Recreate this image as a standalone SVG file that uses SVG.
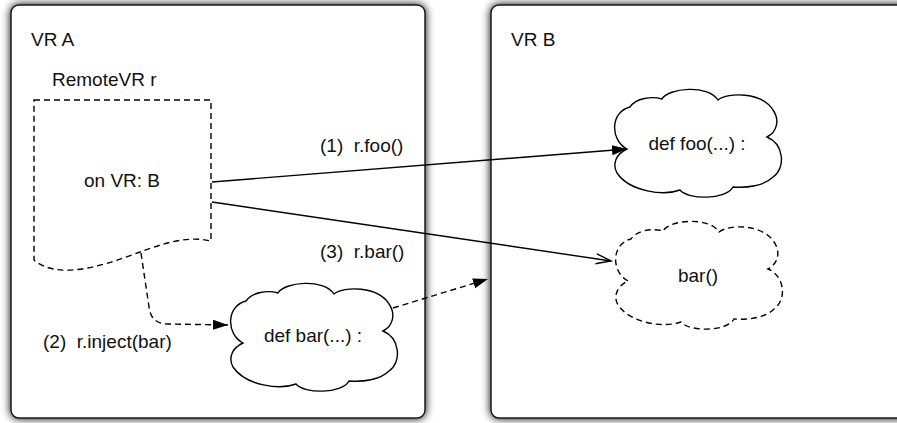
<svg xmlns="http://www.w3.org/2000/svg" width="897" height="423" viewBox="0 0 897 423">
  <style>
    text { font-family: "Liberation Sans", Arial, sans-serif; font-size: 19px; fill: #111; }
    .box { fill: #fff; stroke: #1a1a1a; stroke-width: 1.5; }
    .solid { fill: none; stroke: #000; stroke-width: 1.4; }
    .dash { fill: none; stroke: #000; stroke-width: 1.4; stroke-dasharray: 6 4; }
    .mid { text-anchor: middle; }
  </style>
  <defs>
    <filter id="shadow" x="-10%" y="-10%" width="120%" height="120%">
      <feGaussianBlur in="SourceAlpha" stdDeviation="4.5" result="b"/>
      <feComponentTransfer in="b" result="s">
        <feFuncA type="linear" slope="1"/>
      </feComponentTransfer>
      <feMerge>
        <feMergeNode in="s"/>
        <feMergeNode in="SourceGraphic"/>
      </feMerge>
    </filter>
    <path id="cloud" d="M15,61 C-2,52 -2,24 18,19 C24,10 40,8 50,11 C56,0 96,-4 106,12 C116,4 150,4 161,22 C168,32 165,44 155,49 C172,56 174,80 161,89 C152,98 135,100 121,99 C114,112 76,112 68,102 C52,108 18,104 5,85 C0,76 4,66 15,61 Z"/>
    <marker id="arrow" markerUnits="userSpaceOnUse" markerWidth="16" markerHeight="12" refX="15" refY="5" orient="auto">
      <path d="M0,0 L15,5 L0,10 Z" fill="#000"/>
    </marker>
    <marker id="open" markerUnits="userSpaceOnUse" markerWidth="18" markerHeight="14" refX="16" refY="6" orient="auto">
      <path d="M1,1 L16,6 L1,11" fill="none" stroke="#000" stroke-width="1.4"/>
    </marker>
  </defs>

  <rect width="897" height="423" fill="#fff"/>

  <!-- containers -->
  <g id="vr-a">
    <rect class="box" x="11" y="5" width="414" height="413" rx="8" filter="url(#shadow)"/>
    <text x="31" y="46">VR A</text>
  </g>
  <g id="vr-b">
    <rect class="box" x="491" y="5" width="420" height="413" rx="8" filter="url(#shadow)"/>
    <text x="511" y="46">VR B</text>
  </g>

  <!-- remote proxy (document shape) -->
  <g id="remote-vr">
    <text x="52" y="86">RemoteVR r</text>
    <path class="dash" d="M34,100 H211 V241 C185,235 160,245 140,252 C110,263 60,282 34,260 Z"/>
    <text class="mid" x="122" y="187">on VR: B</text>
  </g>

  <!-- local function -->
  <g id="def-bar">
    <use href="#cloud" x="228" y="282" fill="#fff" stroke="#000" stroke-width="1.4"/>
    <text class="mid" x="313" y="342">def bar(...) :</text>
  </g>

  <!-- remote functions -->
  <g id="def-foo">
    <use href="#cloud" x="612" y="88" fill="#fff" stroke="#000" stroke-width="1.4"/>
    <text class="mid" x="697" y="150">def foo(...) :</text>
  </g>
  <g id="bar-injected">
    <use href="#cloud" x="613" y="220" fill="#fff" stroke="#000" stroke-width="1.4" stroke-dasharray="6 4"/>
    <text class="mid" x="698" y="282">bar()</text>
  </g>

  <!-- connectors -->
  <g id="connectors">
    <line class="solid" x1="212" y1="182" x2="627" y2="149" marker-end="url(#arrow)"/>
    <line class="solid" x1="212" y1="202" x2="611" y2="261" marker-end="url(#open)"/>
    <path class="dash" d="M141,253 L149,307 Q151,324 168,324 L228,325" marker-end="url(#arrow)"/>
    <line class="dash" x1="393" y1="308" x2="488" y2="279" marker-end="url(#arrow)"/>
    <text x="320" y="152">(1)&#160; r.foo()</text>
    <text x="320" y="258">(3)&#160; r.bar()</text>
    <text x="43" y="348">(2)&#160; r.inject(bar)</text>
  </g>
</svg>
